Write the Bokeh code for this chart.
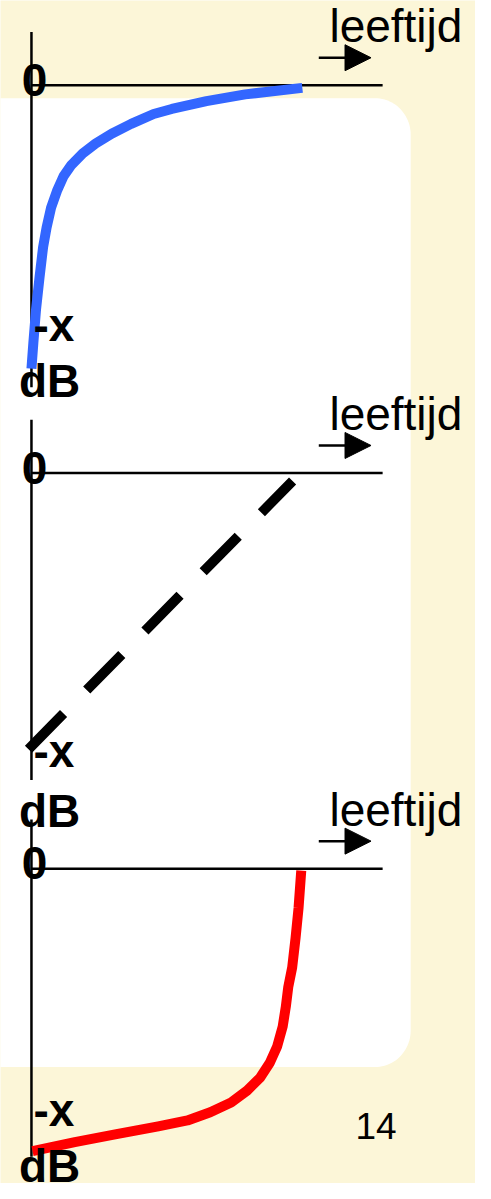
import numpy as np
from bokeh.plotting import figure
from bokeh.models import Range1d, Arrow, NormalHead
from bokeh.core.properties import value
from bokeh.embed import file_html
from bokeh.resources import INLINE

# ---- data (age in relative units 0..100, hearing level in relative dB units 0..-100) ----
blue_age = [0, 0.7, 1.7, 3.0, 4.3, 5.6, 7.25, 9.4, 11.8, 14.75, 18.9, 23.7, 29.6, 36.8, 45.1, 51.8, 64.6, 78.9, 100]
blue_db = [-100.7, -91.6, -79.6, -68.1, -57.5, -50.5, -43.5, -37.6, -32.4, -28.3, -24.2, -20.7, -17.2, -13.7, -10.2, -8.4, -5.6, -3.2, -0.9]

dash_age = [-1.1, 96.4]
dash_db = [-98.2, -2.8]

red_age = [99.6, 98.6, 97.5, 96.25, 94.8, 93.9, 92.75, 90.7, 88.0, 84.4, 79.6, 73.7, 66.0, 57.6, 46.8, 31.4, 16.0, 0.4]
red_db = [-0.7, -14.0, -24.6, -35.1, -42.1, -49.1, -56.1, -63.2, -69.0, -74.3, -78.9, -83.1, -86.6, -89.5, -91.6, -94.4, -97.2, -100.4]

axis_label_x = "leeftijd"
zero_label = "0"
low_label = "-x"
unit_label = "dB"
page_number = "14"

# ---- layout (reference pixel space 491 x 1199 mapped onto the figure) ----
W, H = 475, 1183
REF_W, REF_H = 491, 1199
AGE_ORIGIN, AGE_SCALE = 32, 2.8
DB_SCALE = 2.85
panel_base = [86, 479, 880]
TXT = 17  # baseline correction

CREAM = "#FCF6D8"
FONT = value("Liberation Sans")

p = figure(width=W, height=H, output_backend="svg", toolbar_location=None,
           x_range=Range1d(0, REF_W), y_range=Range1d(REF_H, 0),
           min_border=0, outline_line_color=None)
p.xaxis.visible = False
p.yaxis.visible = False
p.grid.visible = False
p.background_fill_color = CREAM
p.border_fill_color = CREAM

p.extra_x_ranges = {"age": Range1d((0 - AGE_ORIGIN) / AGE_SCALE, (REF_W - AGE_ORIGIN) / AGE_SCALE)}
p.extra_y_ranges = {
    f"p{i}": Range1d((y0 - REF_H) / DB_SCALE, (y0 - 0) / DB_SCALE)
    for i, y0 in enumerate(panel_base)
}

# white rounded panel
r = 37
L, R, T, B = -20, 424, 99, 1081
t1 = np.linspace(-np.pi / 2, 0, 24)
t2 = np.linspace(0, np.pi / 2, 24)
xs = [L] + list(R - r + r * np.cos(t1)) + list(R - r + r * np.cos(t2)) + [L]
ys = [T] + list(T + r + r * np.sin(t1)) + list(B - r + r * np.sin(t2)) + [B]
p.patch(xs, ys, fill_color="white", line_color=None)

# axes per panel
v_ends = [(32, 392), (425, 790), (830, 1172)]
minus_x_base = [346, 778, 1142]
db_base = [403, 838, 1198]
for i, y0 in enumerate(panel_base):
    p.segment(x0=[32], y0=[v_ends[i][0]], x1=[32], y1=[v_ends[i][1]], line_color="black", line_width=2.5)
    p.segment(x0=[32], y0=[y0], x1=[395], y1=[y0], line_color="black", line_width=2.5)
    p.add_layout(Arrow(end=NormalHead(size=26, fill_color="black", line_color="black", line_width=1),
                       x_start=329, y_start=y0 - 28, x_end=383, y_end=y0 - 28,
                       line_color="black", line_width=2.5))
    p.text(x=[340], y=[y0 - 43 - TXT], text=[axis_label_x], text_font=FONT, text_font_size="46px",
           text_color="black", text_baseline="alphabetic", text_align="left")
    p.text(x=[22], y=[y0 + 11.5 - TXT], text=[zero_label], text_font=FONT, text_font_size="46px",
           text_font_style="bold", text_color="black", text_baseline="alphabetic", text_align="left")

# curves
p.line(blue_age, blue_db, x_range_name="age", y_range_name="p0",
       line_color="#3366FF", line_width=10, line_join="round")
p.line(dash_age, dash_db, x_range_name="age", y_range_name="p1",
       line_color="black", line_width=10, line_dash="50 33")
p.line(red_age, red_db, x_range_name="age", y_range_name="p2",
       line_color="#FF0000", line_width=10, line_join="round")

# labels drawn on top
for i in range(3):
    p.text(x=[34], y=[minus_x_base[i] - TXT], text=[low_label], text_font=FONT, text_font_size="46px",
           text_font_style="bold", text_color="black", text_baseline="alphabetic", text_align="left")
    p.text(x=[19], y=[db_base[i] - TXT], text=[unit_label], text_font=FONT, text_font_size="46px",
           text_font_style="bold", text_color="black", text_baseline="alphabetic", text_align="left")

p.text(x=[367], y=[1158 - TXT], text=[page_number], text_font=FONT, text_font_size="37px",
       text_color="black", text_baseline="alphabetic", text_align="left")

open("out.html", "w").write(file_html(p, INLINE))
